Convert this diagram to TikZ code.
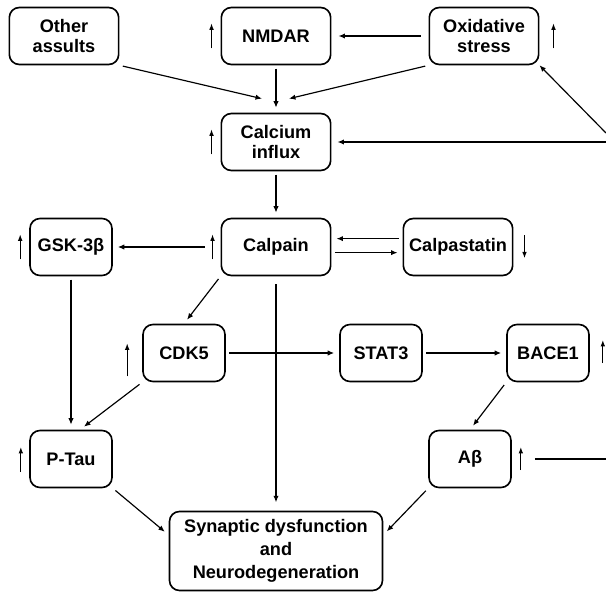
\documentclass[tikz,border=0pt]{standalone}
\usepackage{fontspec}
\setmainfont{Liberation Sans}
\usetikzlibrary{arrows.meta}

\begin{document}
\begin{tikzpicture}[x=0.03cm, y=-0.03cm,
    box/.style={draw, line width=1.4pt, rounded corners=0.3cm, align=center,
      inner sep=0pt, minimum height=1.71cm,
      font=\bfseries\fontsize{15.5}{17}\selectfont},
    wide/.style={box, minimum width=3.28cm},
    narrow/.style={box, minimum width=2.46cm},
    link/.style={line width=1pt, -{Latex[length=5.5pt,width=4.5pt]},
      shorten >=0.15cm, shorten <=0.1cm},
    level/.style={line width=1pt, -{Latex[length=5.5pt,width=4pt]}}]

  \useasboundingbox (0,0) rectangle (606,592);

  % top row
  \node[wide] (other) at (64,36) {Other\\assults};
  \node[wide] (nmdar) at (276,36) {NMDAR};
  \node[wide] (oxid) at (484,36) {Oxidative\\stress};

  \node[wide] (calcium) at (276,142) {Calcium\\influx};

  \node[narrow] (gsk) at (71,247) {GSK-3β};
  \node[wide] (calpain) at (276,247) {Calpain};
  \node[wide] (calpast) at (458,247) {Calpastatin};

  \node[narrow] (cdk5) at (184,353) {CDK5};
  \node[narrow] (stat3) at (381,353) {STAT3};
  \node[narrow] (bace1) at (548,353) {BACE1};

  \node[narrow] (ptau) at (71,459) {P-Tau};
  \node[narrow] (abeta) at (470,459) {Aβ};

  \node[box, minimum width=6.39cm, minimum height=2.37cm,
    font=\bfseries\fontsize{15.5}{19.5}\selectfont]
    (synap) at (276,551) {Synaptic dysfunction\\and\\Neurodegeneration};

  % loose ends at the right border
  \coordinate (fbox) at (606,133);
  \coordinate (fbca) at (606,142);
  \coordinate (fbab) at (606,459);

  % up / down marks
  \draw[level] ([xshift=-0.27cm,yshift=-0.37cm]nmdar.west) -- ++(0,-25);
  \draw[level] ([xshift=0.42cm,yshift=-0.37cm]oxid.east) -- ++(0,-25);
  \draw[level] ([xshift=-0.27cm,yshift=-0.37cm]calcium.west) -- ++(0,-25);
  \draw[level] ([xshift=-0.27cm,yshift=-0.37cm]gsk.west) -- ++(0,-25);
  \draw[level] ([xshift=-0.24cm,yshift=-0.37cm]calpain.west) -- ++(0,-25);
  \draw[level] ([xshift=0.33cm,yshift=0.35cm]calpast.east) -- ++(0,23);
  \draw[level] ([xshift=-0.45cm,yshift=-0.7cm]cdk5.west) -- ++(0,-33);
  \draw[level] ([xshift=0.39cm,yshift=-0.3cm]bace1.east) -- ++(0,-23);
  \draw[level] ([xshift=-0.25cm,yshift=-0.39cm]ptau.west) -- ++(0,-25);
  \draw[level] ([xshift=0.27cm,yshift=-0.33cm]abeta.east) -- ++(0,-23);

  % connectors
  \draw[link, shorten <=0.24cm, shorten >=0.21cm] (oxid.west) -- (nmdar.east);
  \draw[link] (nmdar.south) -- (calcium.north);
  \draw[link, shorten >=0pt] (other.south east) -- ([shift={(-14,-14)}]calcium.north);
  \draw[link, shorten >=0pt] (oxid.south west) -- ([shift={(13,-14)}]calcium.north);
  \draw[link, shorten <=0pt, shorten >=0.18cm] (fbca) -- (calcium.east);
  \draw[link, shorten <=0pt, shorten >=0pt] (fbox) -- (oxid.south east);

  \draw[link] (calcium.south) -- (calpain.north);
  \draw[link, shorten <=0.48cm] (calpain.west) -- (gsk.east);
  \draw[link] ([yshift=0.25cm]calpast.west) -- ([yshift=0.25cm]calpain.east);
  \draw[link] ([yshift=-0.17cm]calpain.east) -- ([yshift=-0.17cm]calpast.west);
  \draw[link] (calpain.south west) -- (cdk5.north);
  \draw[link, shorten <=0.24cm, shorten >=0.25cm] (calpain.south) -- (synap.north);

  \draw[link] (cdk5.east) -- (stat3.west);
  \draw[link] (stat3.east) -- (bace1.west);
  \draw[link] (gsk.south) -- (ptau.north);
  \draw[link] (cdk5.south west) -- ([xshift=0.27cm]ptau.north);
  \draw[link] (bace1.south west) -- (abeta.north);

  \draw[link] (ptau.south east) -- ([yshift=0.48cm]synap.west);
  \draw[link] (abeta.south west) -- ([yshift=0.48cm]synap.east);
  \draw[line width=1pt, shorten <=0.69cm] (abeta.east) -- (fbab);

\end{tikzpicture}
\end{document}
